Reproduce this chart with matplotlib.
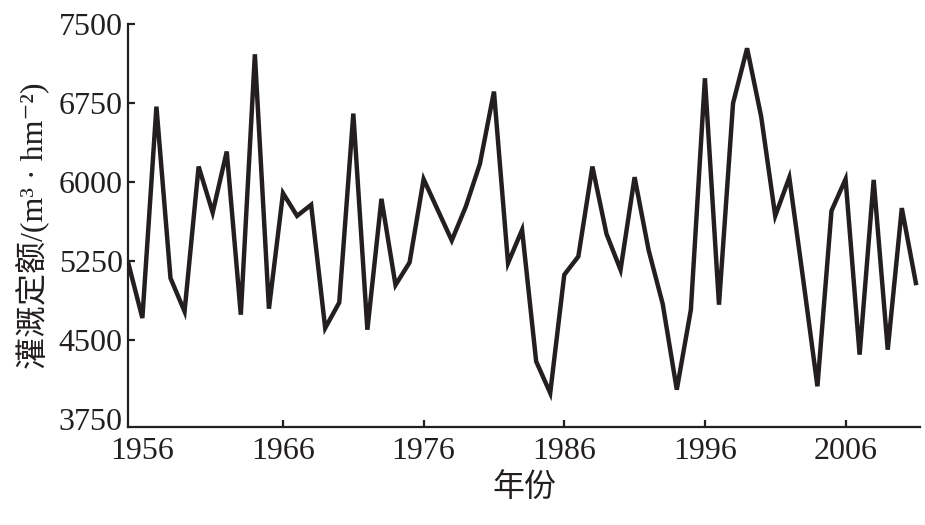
import matplotlib

matplotlib.use("Agg")
import matplotlib.pyplot as plt

# irrigation quota per year
years = list(range(1955, 2012))
quota = [
    5229, 4706, 6717, 5086, 4769, 6147, 5710, 6290, 4738, 7215,
    4795, 5894, 5678, 5783, 4611, 4854, 6651, 4595, 5840, 5020,
    5235, 6027, 5735, 5444, 5767, 6172, 6860, 5229, 5545, 4294,
    3993, 5118, 5292, 6147, 5507, 5165, 6046, 5350, 4840, 4025,
    4785, 6987, 4833, 6749, 7272, 6622, 5678, 6043, 5061, 4057,
    5726, 6027, 4358, 6020, 4405, 5752, 5039,
]
x_ticks = [1956, 1966, 1976, 1986, 1996, 2006]
y_ticks = [3750, 4500, 5250, 6000, 6750, 7500]

plt.rcParams["font.family"] = ["Liberation Serif", "Noto Sans CJK SC", "DejaVu Sans"]
ink = "#231f20"

fig = plt.figure(figsize=(9.25, 5.25), dpi=100)
ax = fig.add_axes([0.1387, 0.1867, 0.856, 0.767])

ax.plot(years, quota, color=ink, lw=3.2, solid_joinstyle="miter")

ax.set_xlim(1955, 2011.3)
ax.set_ylim(3670, 7500)
ax.set_xticks(x_ticks)
ax.set_yticks(y_ticks)

for side in ("top", "right"):
    ax.spines[side].set_visible(False)
for side in ("left", "bottom"):
    ax.spines[side].set_linewidth(1.6)
    ax.spines[side].set_color(ink)

ax.tick_params(direction="in", length=5, width=1.6, color=ink,
               labelsize=23, labelcolor=ink)
ax.tick_params(axis="x", pad=7)
ax.tick_params(axis="y", pad=4)
# the reference shows no tick marks for the first labels
ax.xaxis.get_major_ticks()[0].tick1line.set_visible(False)
ax.yaxis.get_major_ticks()[0].tick1line.set_visible(False)

ax.set_xlabel("年份", fontsize=23, color=ink, labelpad=6)
ax.set_ylabel("灌溉定额/(m³ · hm⁻²)", fontsize=23, color=ink, labelpad=6)

fig.savefig("out.png", dpi=100)
